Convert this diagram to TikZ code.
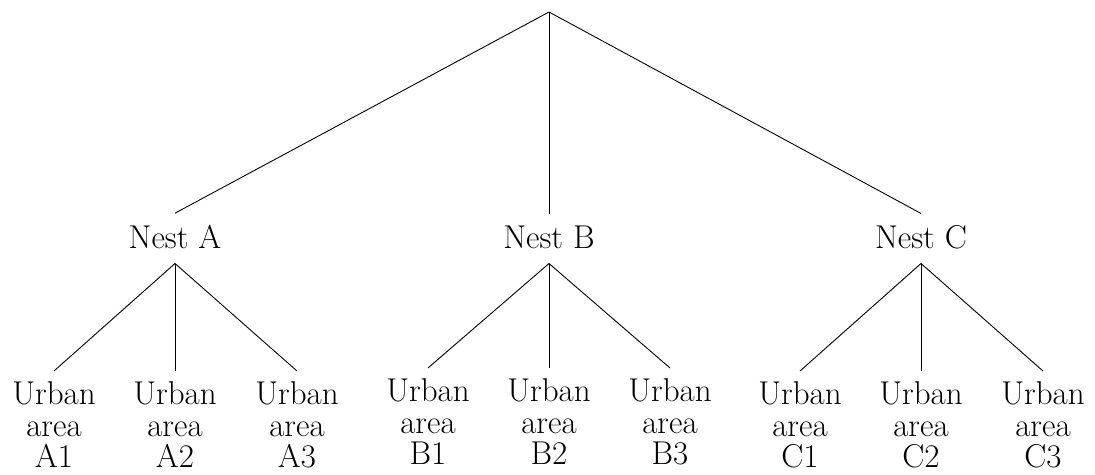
\documentclass[tikz,border=0pt]{standalone}
\usepackage{fontspec}
\begin{document}
\begin{tikzpicture}[x=1pt,y=-1pt,
  lbl/.style={font=\fontsize{33}{31.5}\selectfont, inner xsep=0pt, outer sep=0pt, align=center},
  nest/.style={lbl, inner ysep=11.5pt, text depth=4pt, anchor=base},
  leaf/.style={lbl, inner ysep=11pt, anchor=north},
  branch/.style={line width=0.9pt, black}]
\useasboundingbox (0,0) rectangle (1095,474);

% top of the tree
\coordinate (root) at (549,12);

% second level
\node[nest] (NA) at (175,248) {Nest A};
\node[nest] (NB) at (549,248) {Nest B};
\node[nest] (NC) at (921,248) {Nest C};

% leaves
\node[leaf] (A1) at (54,371) {Urban\\area\\A1};
\node[leaf] (A2) at (175,371) {Urban\\area\\A2};
\node[leaf] (A3) at (297,371) {Urban\\area\\A3};
\node[leaf] (B1) at (428,368) {Urban\\area\\B1};
\node[leaf] (B2) at (549,368) {Urban\\area\\B2};
\node[leaf] (B3) at (670,368) {Urban\\area\\B3};
\node[leaf] (C1) at (800,371) {Urban\\area\\C1};
\node[leaf] (C2) at (921,371) {Urban\\area\\C2};
\node[leaf] (C3) at (1043,371) {Urban\\area\\C3};

% branches
\foreach \n in {NA,NB,NC}
  \draw[branch] (root) -- (\n.north);
\foreach \p in {A,B,C}
  \foreach \i in {1,2,3}
    \draw[branch] (N\p.south) -- (\p\i.north);
\end{tikzpicture}
\end{document}
